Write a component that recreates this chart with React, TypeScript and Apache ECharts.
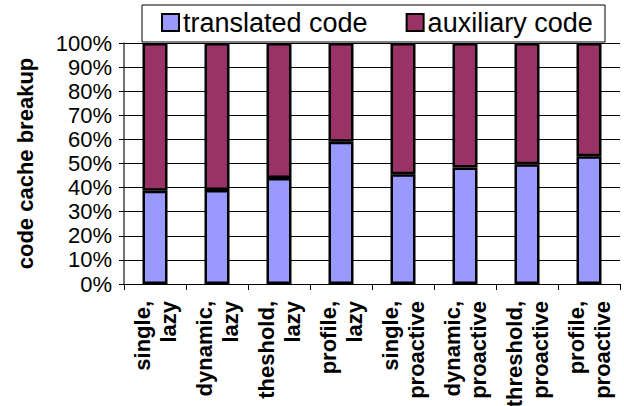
import React, { useEffect, useRef } from "react";
import * as echarts from "echarts";

const categories = [
  "single,\nlazy",
  "dynamic,\nlazy",
  "theshold,\nlazy",
  "profile,\nlazy",
  "single,\nproactive",
  "dynamic,\nproactive",
  "threshold,\nproactive",
  "profile,\nproactive",
];
const translatedCode = [38.7, 39, 44, 59, 45.5, 48.3, 49.7, 53];
const auxiliaryCode = [61.3, 61, 56, 41, 54.5, 51.7, 50.3, 47];
const seriesNames = ["translated code", "auxiliary code"];
const yTicks = { min: 0, max: 100, interval: 10 };

const FONT = "'Liberation Sans', Arial, sans-serif";

export default function App() {
  const ref = useRef<HTMLDivElement>(null);
  useEffect(() => {
    if (!ref.current) return;
    const chart = echarts.init(ref.current, null, { renderer: "svg" });
    chart.setOption({
      animation: false,
      backgroundColor: "#fff",
      textStyle: { fontFamily: FONT, color: "#000" },
      graphic: [
        {
          type: "rect",
          shape: { x: 142, y: 5, width: 463, height: 37 },
          style: { fill: "#fff", stroke: "#000", lineWidth: 1 },
          z: 10,
        },
      ],
      legend: {
        left: 161,
        top: 9,
        itemWidth: 17,
        itemHeight: 17,
        itemGap: 38,
        padding: 0,
        z: 20,
        textStyle: { fontSize: 27, fontFamily: FONT, color: "#000", padding: [0, 0, 0, -1] },
        icon: "rect",
        data: seriesNames,
      },
      grid: {
        left: 124,
        right: 4,
        top: 43,
        bottom: 122,
        containLabel: false,
        outerBoundsMode: "none",
      },
      xAxis: {
        type: "category",
        data: categories,
        axisLine: { show: true, lineStyle: { color: "#000", width: 1 } },
        axisTick: { show: true, alignWithLabel: false, length: 6, lineStyle: { color: "#000" } },
        axisLabel: {
          rotate: 90,
          interval: 0,
          fontSize: 22,
          fontWeight: "bold",
          fontFamily: FONT,
          color: "#000",
          lineHeight: 26,
          margin: 17,
          align: "right",
        },
      },
      yAxis: {
        type: "value",
        min: yTicks.min,
        max: yTicks.max,
        interval: yTicks.interval,
        name: "code cache breakup",
        nameLocation: "middle",
        nameGap: 88,
        nameTextStyle: { fontSize: 22, fontWeight: "bold", fontFamily: FONT, color: "#000" },
        axisLine: { show: true, lineStyle: { color: "#444", width: 1.5 } },
        axisTick: { show: true, length: 5, lineStyle: { color: "#000" } },
        axisLabel: {
          formatter: "{value}%",
          fontSize: 22,
          fontFamily: FONT,
          color: "#000",
          margin: 12,
        },
        splitLine: { show: true, lineStyle: { color: "#000", width: 1 } },
      },
      series: [
        {
          name: seriesNames[0],
          type: "bar",
          stack: "total",
          data: translatedCode,
          barWidth: 25,
          itemStyle: { color: "#9999FF", borderColor: "#000", borderWidth: 2.5 },
        },
        {
          name: seriesNames[1],
          type: "bar",
          stack: "total",
          data: auxiliaryCode,
          barWidth: 25,
          itemStyle: { color: "#993366", borderColor: "#000", borderWidth: 2.5 },
        },
      ],
    });
    return () => chart.dispose();
  }, []);
  return (
    <div
      ref={ref}
      style={{ position: "fixed", left: 0, top: 0, width: 624, height: 406 }}
    />
  );
}
